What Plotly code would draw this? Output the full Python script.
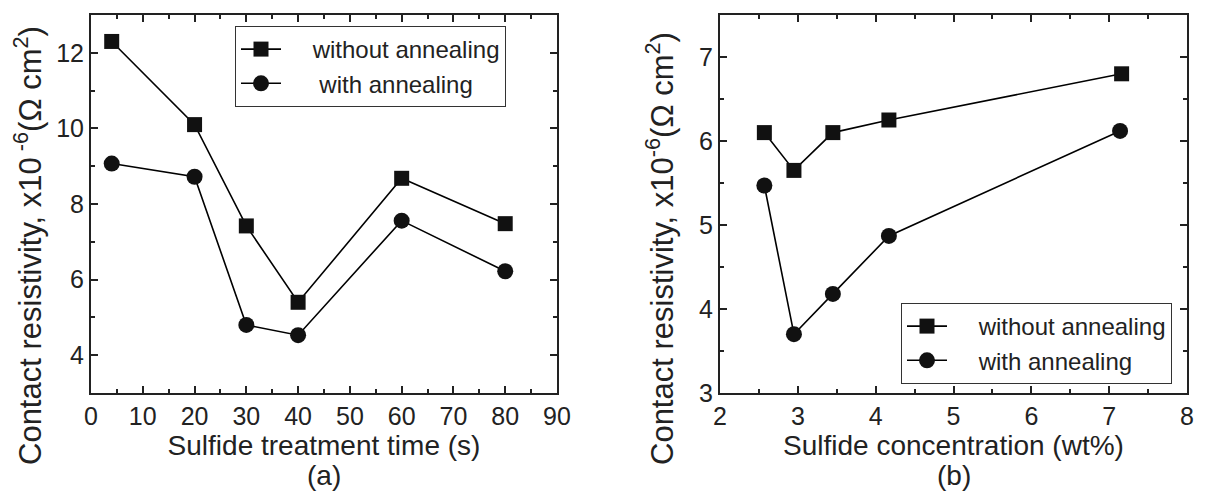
import plotly.graph_objects as go

# Panel (a): sulfide treatment time
time_s = [4, 20, 30, 40, 60, 80]
rho_a_without = [12.3, 10.1, 7.42, 5.4, 8.68, 7.48]
rho_a_with = [9.07, 8.72, 4.8, 4.53, 7.56, 6.22]

# Panel (b): sulfide concentration
conc_without = [2.57, 2.95, 3.45, 4.17, 7.16]
rho_b_without = [6.1, 5.65, 6.1, 6.25, 6.8]
conc_with = [2.57, 2.95, 3.45, 4.17, 7.14]
rho_b_with = [5.47, 3.7, 4.18, 4.87, 6.12]

series_names = ["without annealing", "with annealing"]
FONT = "Arial, Liberation Sans, sans-serif"
INK = "#222"
PAD = "    "

fig = go.Figure()
line = dict(color="black", width=1.6)
sq = dict(symbol="square", size=15, color="#111")
ci = dict(symbol="circle", size=16, color="#111")
fig.add_trace(go.Scatter(x=time_s, y=rho_a_without, mode="lines+markers", name=PAD + series_names[0],
                         line=line, marker=sq, legendgroup="a1",
                         xaxis="x", yaxis="y", legend="legend"))
fig.add_trace(go.Scatter(x=time_s, y=rho_a_with, mode="lines+markers", name=PAD + " " + series_names[1],
                         line=line, marker=ci, legendgroup="a2",
                         xaxis="x", yaxis="y", legend="legend"))
fig.add_trace(go.Scatter(x=conc_without, y=rho_b_without, mode="lines+markers", name=PAD + series_names[0],
                         line=line, marker=sq, legendgroup="b1",
                         xaxis="x2", yaxis="y2", legend="legend2"))
fig.add_trace(go.Scatter(x=conc_with, y=rho_b_with, mode="lines+markers", name=PAD + series_names[1],
                         line=line, marker=ci, legendgroup="b2",
                         xaxis="x2", yaxis="y2", legend="legend2"))

axis_common = dict(showline=True, linecolor=INK, linewidth=2, mirror="allticks",
                   ticks="inside", ticklen=7, tickwidth=2, tickcolor=INK,
                   showgrid=False, zeroline=False,
                   tickfont=dict(family=FONT, size=25, color=INK))
minor = dict(ticks="inside", ticklen=4, tickwidth=2, tickcolor=INK, showgrid=False)
xtitle_font = dict(family=FONT, size=28, color=INK)
ytitle_font = dict(family=FONT, size=31, color=INK)

ydom = [(491 - 393) / 491, (491 - 15) / 491]
ylab = "Contact resistivity, x10<sup> -6</sup>(Ω cm<sup>2</sup>)"
ylab2 = "Contact resistivity, x10<sup>-6</sup>(Ω cm<sup>2</sup>)"

legend_common = dict(xanchor="left", yanchor="top", bordercolor="#333", borderwidth=1,
                     bgcolor="white", font=dict(family=FONT, size=24, color=INK),
                     traceorder="grouped", itemwidth=40, tracegroupgap=0)

fig.update_layout(
    width=1206, height=491,
    margin=dict(l=0, r=0, t=0, b=0),
    paper_bgcolor="white", plot_bgcolor="white",
    font=dict(family=FONT, color=INK),
    showlegend=True,
    xaxis=dict(axis_common, domain=[91 / 1206, 557 / 1206], range=[0, 90], dtick=10, tick0=0,
               minor=dict(minor, dtick=5), automargin=False, anchor="y",
               title=dict(text="Sulfide treatment time (s)", standoff=1, font=xtitle_font)),
    yaxis=dict(axis_common, domain=ydom, range=[3, 13], dtick=2, tick0=0,
               minor=dict(minor, dtick=1), automargin=False, anchor="x"),
    xaxis2=dict(axis_common, domain=[720 / 1206, 1187 / 1206], range=[2, 8], dtick=1, tick0=0,
                minor=dict(minor, dtick=0.5), automargin=False, anchor="y2",
                title=dict(text="Sulfide concentration (wt%)", standoff=1, font=xtitle_font)),
    yaxis2=dict(axis_common, domain=ydom, range=[3, 7.5], dtick=1, tick0=0,
                minor=dict(minor, dtick=0.5), automargin=False, anchor="x2"),
    legend=dict(legend_common, x=235 / 1206, y=(491 - 26) / 491),
    legend2=dict(legend_common, x=901 / 1206, y=(491 - 303) / 491),
    annotations=[
        dict(text=ylab, textangle=-90, x=28 / 1206, y=(491 - 246) / 491, xref="paper", yref="paper",
             xanchor="center", yanchor="middle", showarrow=False, font=ytitle_font),
        dict(text=ylab2, textangle=-90, x=660 / 1206, y=(491 - 248) / 491, xref="paper", yref="paper",
             xanchor="center", yanchor="middle", showarrow=False, font=ytitle_font),
        dict(text="(a)", x=(91 + 557) / 2 / 1206, y=(491 - 475) / 491, xref="paper", yref="paper",
             xanchor="center", yanchor="middle", showarrow=False, font=xtitle_font),
        dict(text="(b)", x=(720 + 1187) / 2 / 1206, y=(491 - 475) / 491, xref="paper", yref="paper",
             xanchor="center", yanchor="middle", showarrow=False, font=xtitle_font),
    ],
)

fig.write_html("out.html")
